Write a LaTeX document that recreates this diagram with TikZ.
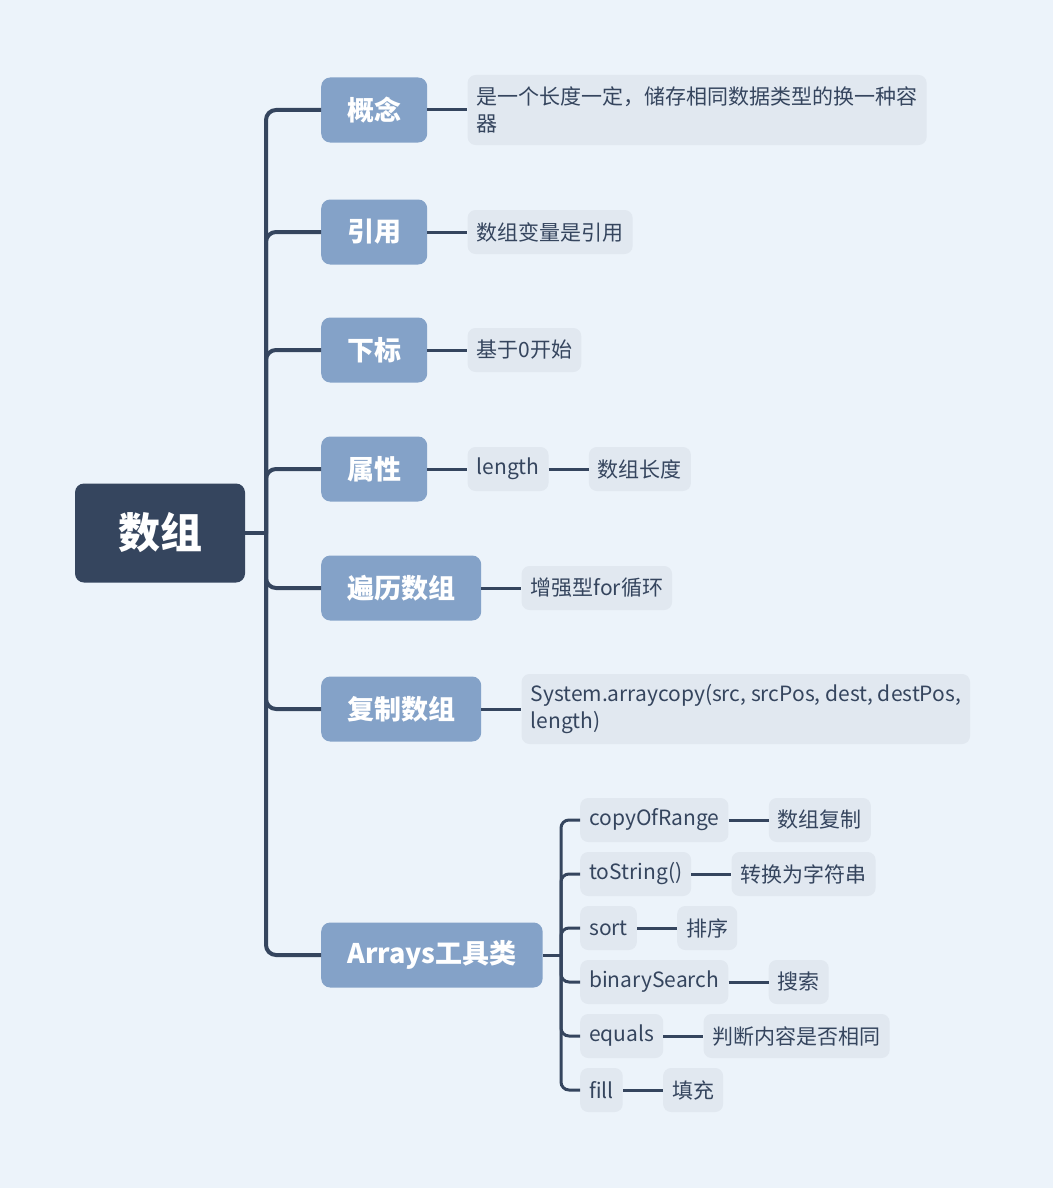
\documentclass[tikz,border=0pt]{standalone}
\usepackage{fontspec}
\setmainfont{Noto Sans CJK SC}
\usetikzlibrary{positioning}
\definecolor{mapbg}{RGB}{236,243,250}
\definecolor{mapdark}{RGB}{53,69,94}
\definecolor{mapblue}{RGB}{132,162,200}
\definecolor{mapgrey}{RGB}{225,232,240}

\tikzset{
  rootbox/.style={fill=mapdark, text=white, rounded corners=9pt,
    minimum width=170pt, minimum height=99pt,
    font=\fontsize{42}{50}\selectfont\bfseries},
  topicbox/.style={fill=mapblue, text=white, rounded corners=9pt,
    minimum height=65pt, inner xsep=26pt, anchor=west,
    font=\fontsize{27}{32}\selectfont\bfseries},
  leafbox/.style={fill=mapgrey, text=mapdark, rounded corners=8pt,
    minimum height=44pt, inner xsep=9pt, anchor=west, align=left,
    font=\fontsize{21}{27}\selectfont},
  trunk/.style={draw=mapdark, line width=4pt, rounded corners=10pt},
  twig/.style={draw=mapdark, line width=3pt, rounded corners=8pt},
}

\begin{document}
\begin{tikzpicture}[x=1pt,y=-1pt]

  % Tlo
  \fill[mapbg] (0,0) rectangle (1053,1188);
  \useasboundingbox (0,0) rectangle (1053,1188);

  %-------------------- korzen --------------------
  \node[rootbox] (root) at (160,533) {数组};
  \coordinate (hub) at (266,533);

  %-------------------- tematy --------------------
  \node[topicbox] (gainian) at (321,110) {概念};
  \node[topicbox] (yinyong) at (321,232) {引用};
  \node[topicbox] (xiabiao) at (321,350) {下标};
  \node[topicbox] (shuxing) at (321,469) {属性};
  \node[topicbox] (bianli)  at (321,588) {遍历数组};
  \node[topicbox] (fuzhi)   at (321,709) {复制数组};
  \node[topicbox] (arrays)  at (321,955) {Arrays工具类};

  % Pien glowny
  \draw[trunk] (root.east) -- (hub);
  \foreach \t in {gainian,yinyong,xiabiao,shuxing,bianli,fuzhi,arrays}{
    \draw[trunk] (hub) |- (\t.west);
  }

  %-------------------- liscie --------------------
  \node[leafbox, minimum height=70pt, right=40pt of gainian] (gainian-d)
    {是一个长度一定，储存相同数据类型的换一种容\\器};
  \node[leafbox, right=40pt of yinyong] (yinyong-d) {数组变量是引用};
  \node[leafbox, right=40pt of xiabiao] (xiabiao-d) {基于0开始};
  \node[leafbox, right=40pt of shuxing] (length) {length};
  \node[leafbox, right=40pt of length] (length-d) {数组长度};
  \node[leafbox, right=40pt of bianli] (bianli-d) {增强型for循环};
  \node[leafbox, minimum height=70pt, right=40pt of fuzhi] (fuzhi-d)
    {System.arraycopy(src, srcPos, dest, destPos,\\length)};

  \draw[twig] (gainian.east) -- (gainian-d.west);
  \draw[twig] (yinyong.east) -- (yinyong-d.west);
  \draw[twig] (xiabiao.east) -- (xiabiao-d.west);
  \draw[twig] (shuxing.east) -- (length.west);
  \draw[twig] (length.east) -- (length-d.west);
  \draw[twig] (bianli.east) -- (bianli-d.west);
  \draw[twig] (fuzhi.east) -- (fuzhi-d.west);

  %-------------------- Arrays --------------------
  \coordinate (subhub) at (561,955);

  \node[leafbox] (copy)   at (580,820)  {copyOfRange};
  \node[leafbox] (tostr)  at (580,874)  {toString()};
  \node[leafbox] (sort)   at (580,928)  {sort};
  \node[leafbox] (search) at (580,982)  {binarySearch};
  \node[leafbox] (equals) at (580,1036) {equals};
  \node[leafbox] (fill)   at (580,1090) {fill};

  \node[leafbox, right=40pt of copy]   (copy-d)   {数组复制};
  \node[leafbox, right=40pt of tostr]  (tostr-d)  {转换为字符串};
  \node[leafbox, right=40pt of sort]   (sort-d)   {排序};
  \node[leafbox, right=40pt of search] (search-d) {搜索};
  \node[leafbox, right=40pt of equals] (equals-d) {判断内容是否相同};
  \node[leafbox, right=40pt of fill]   (fill-d)   {填充};

  \draw[twig] (arrays.east) -- (subhub);
  \foreach \m in {copy,tostr,sort,search,equals,fill}{
    \draw[twig] (subhub) |- (\m.west);
    \draw[twig] (\m.east) -- (\m-d.west);
  }

\end{tikzpicture}
\end{document}
